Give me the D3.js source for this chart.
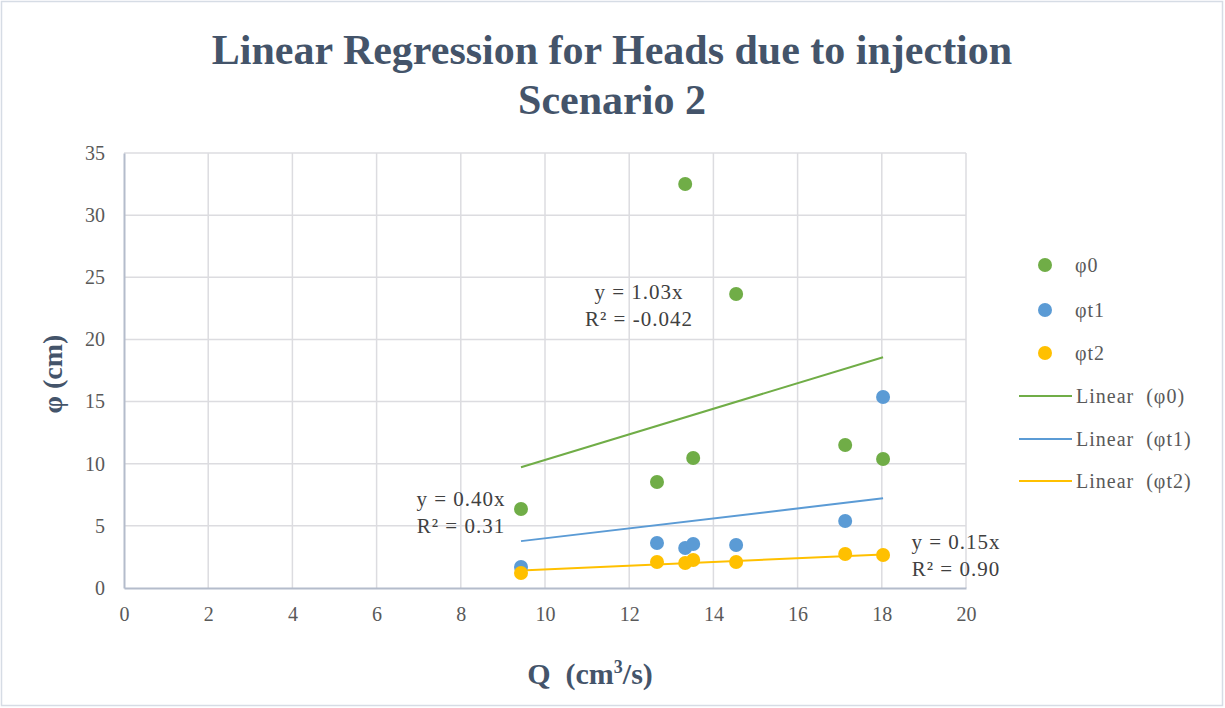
<!DOCTYPE html>
<html>
<head>
<meta charset="utf-8">
<script src="https://cdn.jsdelivr.net/npm/d3@7"></script>
<style>
  body { margin: 0; background: #fff; }
  svg text { font-family: "Liberation Serif", "Times New Roman", serif; }
</style>
</head>
<body>
<div id="chart"></div>
<script>
// data
const qValues = [9.43, 12.66, 13.33, 13.52, 14.54, 17.13, 18.03];
const phi0 = [6.36, 8.53, 32.5, 10.46, 23.65, 11.5, 10.38];
const phiT1 = [1.69, 3.62, 3.22, 3.54, 3.46, 5.39, 15.37];
const phiT2 = [1.21, 2.09, 2.01, 2.25, 2.09, 2.74, 2.65];
const seriesNames = ["φ0", "φt1", "φt2"];
const slopes = [1.03, 0.40, 0.15];
const r2Labels = ["-0.042", "0.31", "0.90"];
const xTicks = [0, 2, 4, 6, 8, 10, 12, 14, 16, 18, 20];
const yTicks = [0, 5, 10, 15, 20, 25, 30, 35];

const colors = ["#70ad47", "#5b9bd5", "#ffc000"];
const allSeries = [phi0, phiT1, phiT2];

const W = 1225, H = 708;
const margin = {top: 153, right: 259, bottom: 120, left: 124};
const width = W - margin.left - margin.right,
      height = H - margin.top - margin.bottom;

const svg = d3.select("#chart")
  .append("svg")
    .attr("width", W)
    .attr("height", H);

// outer border
svg.append("rect")
  .attr("x", 1.5).attr("y", 1.5)
  .attr("width", W - 4).attr("height", H - 4)
  .attr("fill", "#fff")
  .attr("stroke", "#d6dce5")
  .attr("stroke-width", 1.5);

// title
svg.append("text")
  .attr("x", 612).attr("y", 64)
  .attr("text-anchor", "middle")
  .style("font-size", "42px").style("font-weight", "bold")
  .style("fill", "#44546a")
  .text("Linear Regression for Heads due to injection");
svg.append("text")
  .attr("x", 612).attr("y", 114)
  .attr("text-anchor", "middle")
  .style("font-size", "42px").style("font-weight", "bold")
  .style("fill", "#44546a")
  .text("Scenario 2");

const g = svg.append("g")
  .attr("transform", `translate(${margin.left}, ${margin.top})`);

const x = d3.scaleLinear().domain([0, 20]).range([0, width]);
const y = d3.scaleLinear().domain([0, 35]).range([height, 0]);

// gridlines
g.append("g")
  .selectAll("line")
  .data(xTicks.slice(1))
  .join("line")
    .attr("x1", d => x(d)).attr("x2", d => x(d))
    .attr("y1", 0).attr("y2", height)
    .attr("stroke", "#dcdce0").attr("stroke-width", 1.5);
g.append("g")
  .selectAll("line")
  .data(yTicks.slice(1))
  .join("line")
    .attr("x1", 0).attr("x2", width)
    .attr("y1", d => y(d)).attr("y2", d => y(d))
    .attr("stroke", "#dcdce0").attr("stroke-width", 1.5);

// axes
const xAxis = g.append("g")
  .attr("transform", `translate(0, ${height})`)
  .call(d3.axisBottom(x).tickValues(xTicks).tickSize(0).tickPadding(19));
const yAxis = g.append("g")
  .call(d3.axisLeft(y).tickValues(yTicks).tickSize(0).tickPadding(19));
[xAxis, yAxis].forEach(a => {
  a.select(".domain").attr("stroke", "#b4bccb").attr("stroke-width", 2);
  a.selectAll("text")
    .style("font-family", "'Liberation Serif', serif")
    .style("font-size", "20px")
    .style("fill", "#595959");
});

// trend lines (through origin, from min to max Q)
const qExtent = d3.extent(qValues);
slopes.forEach((s, i) => {
  g.append("line")
    .attr("x1", x(qExtent[0])).attr("y1", y(s * qExtent[0]))
    .attr("x2", x(qExtent[1])).attr("y2", y(s * qExtent[1]))
    .attr("stroke", colors[i]).attr("stroke-width", 2);
});

// points
allSeries.forEach((vals, i) => {
  g.append("g")
    .selectAll("circle")
    .data(vals)
    .join("circle")
      .attr("cx", (d, j) => x(qValues[j]))
      .attr("cy", d => y(d))
      .attr("r", 7)
      .style("fill", colors[i]);
});

// equation labels
const eqPos = [[639, 299], [461, 506], [956, 549]];
slopes.forEach((s, i) => {
  const t = svg.append("text")
    .attr("text-anchor", "middle")
    .style("font-size", "21px")
    .style("letter-spacing", "1px")
    .style("fill", "#404040");
  t.append("tspan").attr("x", eqPos[i][0]).attr("y", eqPos[i][1])
    .text(`y = ${s.toFixed(2)}x`);
  t.append("tspan").attr("x", eqPos[i][0]).attr("y", eqPos[i][1] + 27)
    .text(`R² = ${r2Labels[i]}`);
});

// axis titles
svg.append("text")
  .attr("transform", "translate(62, 374) rotate(-90)")
  .attr("text-anchor", "middle")
  .style("font-size", "28px").style("font-weight", "bold")
  .style("fill", "#44546a")
  .text("φ (cm)");
const xt = svg.append("text")
  .attr("x", 590).attr("y", 684)
  .attr("text-anchor", "middle")
  .attr("xml:space", "preserve")
  .style("font-size", "30px").style("font-weight", "bold")
  .style("fill", "#44546a");
xt.append("tspan").text("Q  (cm");
xt.append("tspan").attr("dy", -11).style("font-size", "18px").text("3");
xt.append("tspan").attr("dy", 11).text("/s)");

// legend
const legend = svg.append("g");
const rowY = [265, 310, 353, 396, 439, 481];
seriesNames.forEach((n, i) => {
  legend.append("circle")
    .attr("cx", 1045).attr("cy", rowY[i]).attr("r", 7)
    .style("fill", colors[i]);
  legend.append("text")
    .attr("x", 1075).attr("y", rowY[i] + 7)
    .style("font-size", "20px").style("letter-spacing", "1px")
    .style("fill", "#595959")
    .text(n);
});
seriesNames.forEach((n, i) => {
  const ry = rowY[i + 3];
  legend.append("line")
    .attr("x1", 1019).attr("x2", 1072)
    .attr("y1", ry).attr("y2", ry)
    .attr("stroke", colors[i]).attr("stroke-width", 2);
  legend.append("text")
    .attr("x", 1076).attr("y", ry + 7)
    .attr("xml:space", "preserve")
    .style("font-size", "20px").style("letter-spacing", "1px")
    .style("fill", "#595959")
    .text(`Linear  (${n})`);
});
</script>
</body>
</html>
